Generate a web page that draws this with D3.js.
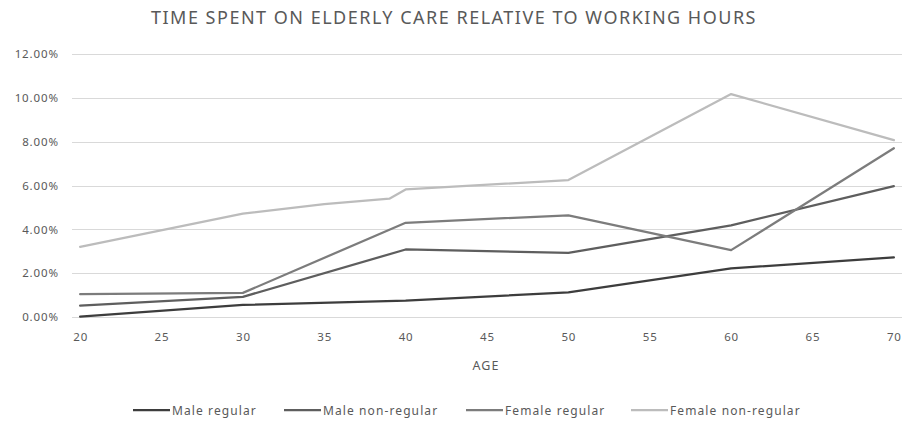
<!DOCTYPE html>
<html>
<head>
<meta charset="utf-8">
<script src="https://cdn.jsdelivr.net/npm/d3@7"></script>
<style>
  html, body { margin: 0; padding: 0; background: #fff; }
  svg { display: block; font-family: "Noto Sans", "Open Sans", sans-serif; }
</style>
</head>
<body>
<svg id="chart" width="907" height="423"></svg>
<script>
// Share of working hours spent on elderly care, by age (percent)
const ages = d3.range(20, 71);
const xTickLabels = [20, 25, 30, 35, 40, 45, 50, 55, 60, 65, 70];
const yTickValues = [0, 2, 4, 6, 8, 10, 12];

const seriesNames = ["Male regular", "Male non-regular", "Female regular", "Female non-regular"];
const seriesColors = ["#3d3d3d", "#5e5e5e", "#7c7c7c", "#bcbcbc"];

const maleRegular      = [[20, 0.02], [30, 0.55], [40, 0.75], [50, 1.12], [60, 2.22], [70, 2.72]];
const maleNonRegular   = [[20, 0.52], [30, 0.92], [40, 3.08], [50, 2.93], [60, 4.18], [70, 5.97]];
const femaleRegular    = [[20, 1.04], [30, 1.10], [40, 4.30], [50, 4.64], [60, 3.05], [70, 7.70]];
const femaleNonRegular = [[20, 3.20], [30, 4.72], [35, 5.15], [39, 5.40], [40, 5.82], [50, 6.25], [60, 10.17], [70, 8.07]];

const seriesData = [maleRegular, maleNonRegular, femaleRegular, femaleNonRegular];

const svg = d3.select("#chart");
const textColor = "#595959";

const plot = { left: 72, right: 902, top: 54, bottom: 317 };

// one slot per year of age, points centred in their slots
const x = d3.scalePoint().domain(ages).range([plot.left, plot.right]).padding(0.5);
const y = d3.scaleLinear().domain([0, 12]).range([plot.bottom, plot.top]);

// title
svg.append("text")
  .attr("x", 454).attr("y", 24)
  .attr("text-anchor", "middle")
  .attr("fill", textColor)
  .style("font-size", "18px")
  .style("letter-spacing", "1.5px")
  .text("TIME SPENT ON ELDERLY CARE RELATIVE TO WORKING HOURS");

// horizontal gridlines
svg.append("g")
  .selectAll("line")
  .data(yTickValues)
  .join("line")
  .attr("x1", plot.left).attr("x2", plot.right)
  .attr("y1", d => Math.round(y(d)) + 0.5).attr("y2", d => Math.round(y(d)) + 0.5)
  .attr("stroke", "#d9d9d9").attr("stroke-width", 1);

const tickStyle = g => g.selectAll("text")
  .attr("fill", textColor)
  .style("font-size", "11.5px")
  .style("letter-spacing", "0.9px")
  .style("font-family", "\"Noto Sans\", sans-serif");

// y axis labels
const yAxis = d3.axisLeft(y)
  .tickValues(yTickValues)
  .tickFormat(d => d3.format(".2f")(d) + "%")
  .tickSize(0).tickPadding(0);
svg.append("g")
  .attr("transform", `translate(${plot.left - 13},0)`)
  .call(yAxis)
  .call(g => g.select(".domain").remove())
  .call(tickStyle);

// x axis labels
const xAxis = d3.axisBottom(x)
  .tickValues(xTickLabels)
  .tickSize(0).tickPadding(0);
svg.append("g")
  .attr("transform", `translate(0,${plot.bottom + 16})`)
  .call(xAxis)
  .call(g => g.select(".domain").remove())
  .call(tickStyle);

// x axis title
svg.append("text")
  .attr("x", 486).attr("y", 370)
  .attr("text-anchor", "middle")
  .attr("fill", textColor)
  .style("font-size", "12.5px")
  .style("letter-spacing", "1px")
  .text("AGE");

// series lines
const line = d3.line().x(d => x(d[0])).y(d => y(d[1]));
svg.append("g")
  .selectAll("path")
  .data(seriesData)
  .join("path")
  .attr("d", line)
  .attr("fill", "none")
  .attr("stroke", (d, i) => seriesColors[i])
  .attr("stroke-width", 2.25)
  .attr("stroke-linejoin", "round")
  .attr("stroke-linecap", "round");

// legend
const legendX = [133, 284, 466, 631];
const legend = svg.append("g")
  .selectAll("g")
  .data(seriesNames)
  .join("g")
  .attr("transform", (d, i) => `translate(${legendX[i]},410)`);
legend.append("line")
  .attr("x1", 0).attr("x2", 37).attr("y1", 0).attr("y2", 0)
  .attr("stroke", (d, i) => seriesColors[i]).attr("stroke-width", 2.25);
legend.append("text")
  .attr("x", 39).attr("y", 4.5)
  .attr("fill", textColor)
  .style("font-size", "12px")
  .style("letter-spacing", "1.1px")
  .text(d => d);
</script>
</body>
</html>
